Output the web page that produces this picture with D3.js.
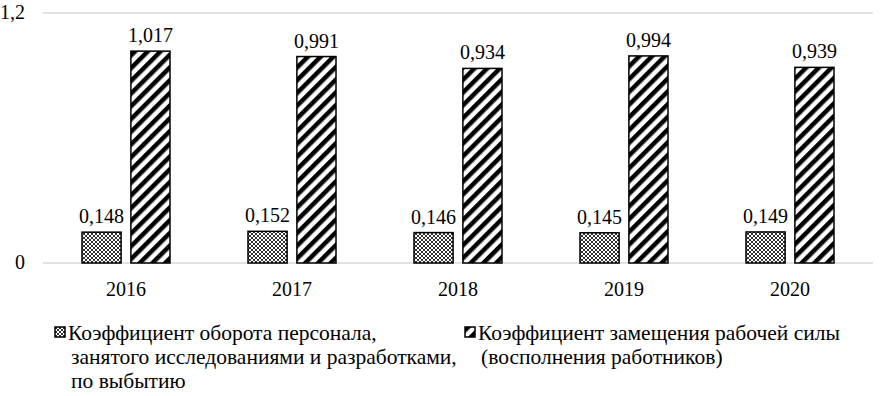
<!DOCTYPE html>
<html>
<head>
<meta charset="utf-8">
<script src="https://cdn.jsdelivr.net/npm/d3@7"></script>
<style>
  body { margin: 0; background: #fff; }
</style>
</head>
<body>
<div id="container"></div>
<script>
const years = ["2016", "2017", "2018", "2019", "2020"]
const turnover = [0.148, 0.152, 0.146, 0.145, 0.149]
const replacement = [1.017, 0.991, 0.934, 0.994, 0.939]
const yTicks = [0, 1.2]
const seriesNames = [
  ["Коэффициент оборота персонала,", "занятого исследованиями и разработками,", "по выбытию"],
  ["Коэффициент замещения рабочей силы", "(восполнения работников)"]
]

const W = 886, H = 396
const margin = {top: 13, right: 13, bottom: 133, left: 43}
const width = W - margin.left - margin.right
const height = H - margin.top - margin.bottom

const svg = d3.select("#container").append("svg")
  .attr("width", W).attr("height", H)
  .attr("font-family", "Liberation Serif")

// patterns
const defs = svg.append("defs")
const dots = defs.append("pattern")
  .attr("id", "dots").attr("patternUnits", "userSpaceOnUse")
  .attr("width", 4).attr("height", 4)
dots.append("rect").attr("width", 4).attr("height", 4).attr("fill", "#fff")
dots.append("rect").attr("x", 0).attr("y", 0).attr("width", 2).attr("height", 2).attr("fill", "#333")
dots.append("rect").attr("x", 2).attr("y", 2).attr("width", 2).attr("height", 2).attr("fill", "#333")

const stripes = defs.append("pattern")
  .attr("id", "stripes").attr("patternUnits", "userSpaceOnUse")
  .attr("width", 9).attr("height", 9)
  .attr("patternTransform", "rotate(45)")
stripes.append("rect").attr("width", 9).attr("height", 9).attr("fill", "#fff")
stripes.append("rect").attr("x", 0).attr("width", 4.5).attr("height", 9).attr("fill", "#000")

const g = svg.append("g").attr("transform", `translate(${margin.left},${margin.top})`)

const x = d3.scaleBand().domain(years).range([0, width])
const x1 = d3.scaleBand().domain([0, 1]).range([0, 88]).paddingInner(0.2)
const y = d3.scaleLinear().domain([0, 1.2]).range([height, 0])

// gridlines
g.selectAll(".grid").data(yTicks).enter().append("line")
  .attr("x1", 0).attr("x2", width)
  .attr("y1", d => y(d)).attr("y2", d => y(d))
  .attr("stroke", "#d9d9d9").attr("stroke-width", 1.5)

// y labels
g.selectAll(".ylab").data(yTicks).enter().append("text")
  .attr("x", -18).attr("y", d => y(d)).attr("dy", "0.32em")
  .attr("text-anchor", "end").style("font-size", "20px")
  .text(d => d3.format(".1~f")(d).replace(".", ","))

const fmt = v => d3.format(".3f")(v).replace(".", ",")
const series = [turnover, replacement]
const fills = ["url(#dots)", "url(#stripes)"]

series.forEach((vals, s) => {
  const grp = g.append("g")
  grp.selectAll("rect").data(vals).enter().append("rect")
    .attr("x", (d, i) => x(years[i]) + x.bandwidth() / 2 - 44 + x1(s))
    .attr("y", d => y(d))
    .attr("width", x1.bandwidth())
    .attr("height", d => height - y(d))
    .attr("fill", fills[s]).attr("stroke", "#000").attr("stroke-width", 1.5)
  grp.selectAll("text").data(vals).enter().append("text")
    .attr("x", (d, i) => x(years[i]) + x.bandwidth() / 2 - 44 + x1(s) + x1.bandwidth() / 2)
    .attr("y", d => y(d) - 9)
    .attr("text-anchor", "middle").style("font-size", "20px")
    .text(fmt)
})

// x labels
g.selectAll(".xlab").data(years).enter().append("text")
  .attr("x", d => x(d) + x.bandwidth() / 2).attr("y", height + 33)
  .attr("text-anchor", "middle").style("font-size", "20px")
  .text(d => d)

// legend
const legendX = [55, 465]
seriesNames.forEach((lines, s) => {
  const lg = svg.append("g").attr("transform", `translate(${legendX[s]},327)`)
  lg.append("rect").attr("x", 0).attr("y", 0).attr("width", 10).attr("height", 10)
    .attr("fill", fills[s]).attr("stroke", "#000").attr("stroke-width", 1.5)
  const t = lg.append("text").style("font-size", "21.5px").attr("y", 13)
  lines.forEach((ln, i) => {
    t.append("tspan").attr("x", i === 0 ? 13 : 16).attr("dy", i === 0 ? 0 : 24).text(ln)
  })
})
</script>
</body>
</html>
